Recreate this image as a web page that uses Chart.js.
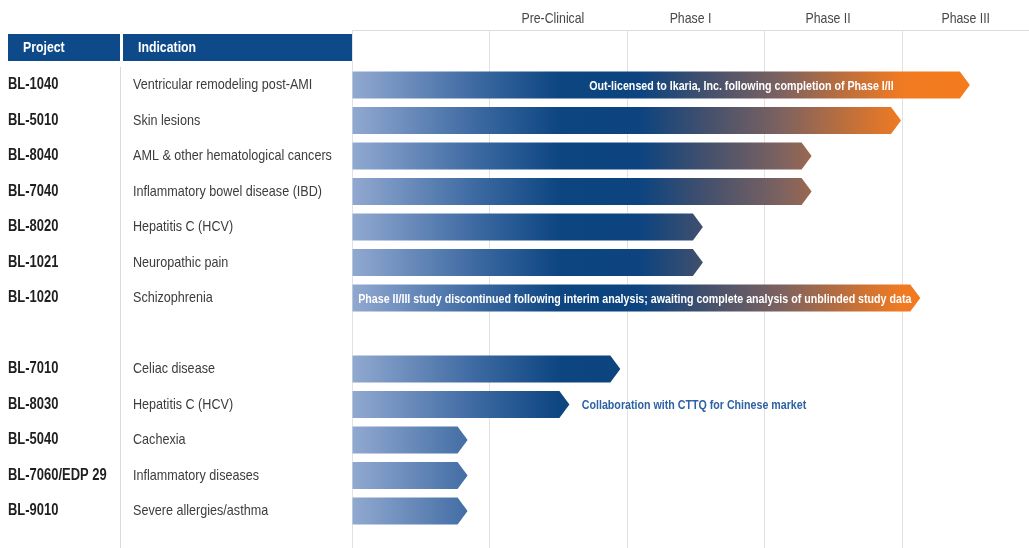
<!DOCTYPE html>
<html>
<head>
<meta charset="utf-8">
<script src="https://cdn.jsdelivr.net/npm/chart.js@4.4.1/dist/chart.umd.min.js"></script>
<style>
  html, body { margin: 0; padding: 0; background: #ffffff; }
  #wrap { width: 1029px; height: 548px; position: relative; }
</style>
</head>
<body>
<div id="wrap"><canvas id="c"></canvas></div>
<script>
// ---- data ----
const projects = ['BL-1040', 'BL-5010', 'BL-8040', 'BL-7040', 'BL-8020', 'BL-1021', 'BL-1020', '',
  'BL-7010', 'BL-8030', 'BL-5040', 'BL-7060/EDP 29', 'BL-9010'];
const indications = ['Ventricular remodeling post-AMI', 'Skin lesions', 'AML & other hematological cancers',
  'Inflammatory bowel disease (IBD)', 'Hepatitis C (HCV)', 'Neuropathic pain', 'Schizophrenia', '',
  'Celiac disease', 'Hepatitis C (HCV)', 'Cachexia', 'Inflammatory diseases', 'Severe allergies/asthma'];
const phases = ['Pre-Clinical', 'Phase I', 'Phase II', 'Phase III'];
// progress measured in phases from discovery start (0) ; null = spacer row
const progress = [4.49, 3.99, 3.34, 3.34, 2.55, 2.55, 4.13, null, 1.95, 1.58, 0.84, 0.84, 0.84];
const noteRows = [0, 6, 9];
const noteTexts = [
  'Out-licensed to Ikaria, Inc. following completion of Phase I/II',
  'Phase II/III study discontinued following interim analysis; awaiting complete analysis of unblinded study data',
  'Collaboration with CTTQ for Chinese market'
];

// ---- styles ----
const FONT = "'Liberation Sans', Arimo, Arial, sans-serif";
const NARROW = 0.82;
const NAVY = '#0e4a8a';

const barPoints = progress.map((v, i) => ({ x: v, y: i })).filter(p => p.x !== null);

const noteItems = [
  { row: noteRows[0], text: noteTexts[0], align: 'center', at: 2.83, color: '#ffffff' },
  { row: noteRows[1], text: noteTexts[1], align: 'left', at: 0.045, color: '#ffffff' },
  { row: noteRows[2], text: noteTexts[2], align: 'left', at: 1.67, color: '#2d62a3' }
];

function narrowText(ctx, text, x, y, font, color, align, sx) {
  ctx.save();
  ctx.translate(x, y);
  ctx.scale(sx, 1);
  ctx.font = font;
  ctx.fillStyle = color;
  ctx.textAlign = align;
  ctx.textBaseline = 'middle';
  ctx.fillText(text, 0, 0);
  ctx.restore();
}

function barGradient(ctx, xs) {
  const x0 = xs.getPixelForValue(0), x1 = xs.getPixelForValue(4.5);
  const g = ctx.createLinearGradient(x0, 0, x1, 0);
  g.addColorStop(0.000, '#91a9d0');
  g.addColorStop(0.207, '#3a67a0');
  g.addColorStop(0.337, '#0c4580');
  g.addColorStop(0.466, '#0d4480');
  g.addColorStop(0.563, '#3f4f6e');
  g.addColorStop(0.693, '#7d6260');
  g.addColorStop(0.806, '#c2703a');
  g.addColorStop(0.887, '#f07a22');
  g.addColorStop(1.000, '#f57b1c');
  return g;
}

const arrowBars = {
  id: 'arrowBars',
  beforeDatasetDraw(chart, args) {
    const ctx = chart.ctx;
    const xs = chart.scales.x;
    const fill = barGradient(ctx, xs);
    ctx.save();
    args.meta.data.forEach(el => {
      const p = el.getProps(['x', 'y', 'base', 'height'], true);
      const top = p.y - p.height / 2, bot = p.y + p.height / 2;
      const depth = 10;
      ctx.beginPath();
      ctx.moveTo(p.base, top);
      ctx.lineTo(p.x - depth, top);
      ctx.lineTo(p.x, p.y);
      ctx.lineTo(p.x - depth, bot);
      ctx.lineTo(p.base, bot);
      ctx.closePath();
      ctx.fillStyle = fill;
      ctx.fill();
    });
    ctx.restore();
    return false;
  }
};

const tableAndNotes = {
  id: 'tableAndNotes',
  beforeDatasetsDraw(chart) {
    const ctx = chart.ctx;
    const xs = chart.scales.x, ys = chart.scales.y;
    ctx.save();
    // header boxes
    ctx.fillStyle = NAVY;
    ctx.fillRect(8, 34, 112, 27);
    ctx.fillRect(123, 34, 229, 27);
    narrowText(ctx, 'Project', 23, 48, 'bold 15px ' + FONT, '#ffffff', 'left', NARROW);
    narrowText(ctx, 'Indication', 138, 48, 'bold 15px ' + FONT, '#ffffff', 'left', NARROW);
    // separator
    ctx.strokeStyle = '#d6d9df';
    ctx.lineWidth = 1;
    ctx.beginPath();
    ctx.moveTo(120.5, 67);
    ctx.lineTo(120.5, chart.height);
    ctx.stroke();
    // phase labels
    phases.forEach((ph, i) => {
      narrowText(ctx, ph, xs.getPixelForValue(i + 1.46), 19, '15px ' + FONT, '#474747', 'center', NARROW);
    });
    // rows
    projects.forEach((pr, i) => {
      const y = ys.getPixelForValue(i);
      narrowText(ctx, pr, 8, y, 'bold 16px ' + FONT, '#1e1e1e', 'left', 0.81);
      narrowText(ctx, indications[i], 133, y, '15px ' + FONT, '#3c3c3c', 'left', 0.84);
    });
    ctx.restore();
  },
  afterDatasetsDraw(chart) {
    const ctx = chart.ctx;
    const xs = chart.scales.x, ys = chart.scales.y;
    noteItems.forEach(n => {
      narrowText(ctx, n.text, xs.getPixelForValue(n.at), ys.getPixelForValue(n.row) + 1,
        'bold 13px ' + FONT, n.color, n.align, NARROW);
    });
  }
};

new Chart(document.getElementById('c'), {
  type: 'bar',
  data: {
    datasets: [{
      data: barPoints,
      backgroundColor: NAVY,
      barThickness: 27
    }]
  },
  options: {
    indexAxis: 'y',
    responsive: true,
    maintainAspectRatio: false,
    animation: false,
    devicePixelRatio: 1,
    layout: { padding: { left: 352, top: 30, right: 0, bottom: 0 } },
    plugins: { legend: { display: false }, tooltip: { enabled: false } },
    scales: {
      x: {
        type: 'linear',
        position: 'top',
        offset: false,
        min: 0,
        max: 4.92,
        ticks: { display: false, stepSize: 1, includeBounds: false },
        grid: { color: '#e2e2e2', drawTicks: false, lineWidth: 1, offset: false },
        border: { display: true, color: '#dcdcdc' }
      },
      y: {
        type: 'linear',
        reverse: true,
        offset: false,
        min: -1.55,
        max: 13.04,
        display: false,
        grid: { offset: false }
      }
    }
  },
  plugins: [arrowBars, tableAndNotes]
});
</script>
</body>
</html>
